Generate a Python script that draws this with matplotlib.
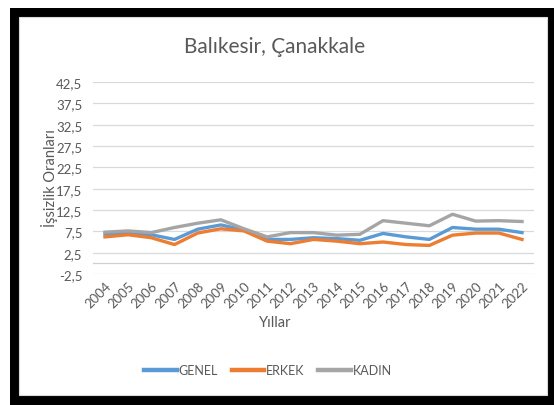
"""Unemployment rate lines for Balıkesir and Çanakkale, 2004-2022."""

import matplotlib

matplotlib.use("Agg")
import matplotlib.pyplot as plt
from matplotlib.patches import Rectangle
from matplotlib.ticker import FuncFormatter

plt.rcParams["font.family"] = ["Lato", "DejaVu Sans"]

years = list(range(2004, 2023))
genel = [6.9, 7.0, 6.7, 5.6, 8.0, 9.0, 7.8, 5.6, 5.6, 6.0, 5.8, 5.4, 7.0, 6.2, 5.6, 8.4, 8.0, 8.0, 7.2]
erkek = [6.2, 6.7, 6.0, 4.4, 7.1, 8.1, 7.6, 5.2, 4.6, 5.6, 5.2, 4.6, 5.0, 4.4, 4.2, 6.6, 7.1, 7.1, 5.6]
kadin = [7.3, 7.6, 7.2, 8.4, 9.4, 10.2, 8.1, 6.2, 7.2, 7.2, 6.6, 6.8, 10.0, 9.4, 8.8, 11.5, 9.9, 10.0, 9.8]
y_ticks = [-2.5, 2.5, 7.5, 12.5, 17.5, 22.5, 27.5, 32.5, 37.5, 42.5]

series = [
    ("GENEL", genel, "#5B9BD5"),
    ("ERKEK", erkek, "#ED7D31"),
    ("KADIN", kadin, "#A5A5A5"),
]

TEXT = "#595959"
W, H = 554, 406

fig = plt.figure(figsize=(W / 100, H / 100), dpi=100, facecolor="white")


def px_rect(x0, y0, x1, y1, **kw):
    """Rectangle given in pixel coords measured from the top-left corner."""
    return Rectangle((x0 / W, 1 - y1 / H), (x1 - x0) / W, (y1 - y0) / H,
                     transform=fig.transFigure, **kw)


# black frame with the white chart card inside, kept under the axes
fig.patches.append(px_rect(10, 9, 556, 406, facecolor="black", edgecolor="none", zorder=-3))
fig.patches.append(px_rect(19, 18, 547, 396, facecolor="white", edgecolor="#d9d9d9",
                           linewidth=0.8, zorder=-2))

ax = fig.add_axes([93.4 / W, 1 - 275 / H, 440.2 / W, 192 / H])
ax.set_facecolor("none")

x = list(range(len(years)))
for name, values, color in series:
    ax.plot(x, values, color=color, linewidth=2.4, label=name, solid_joinstyle="round", zorder=3)

ax.set_xlim(-0.5, len(years) - 0.5)
ax.set_ylim(-2.5, 42.5)
ax.set_yticks(y_ticks)
ax.yaxis.set_major_formatter(FuncFormatter(lambda v, _: f"{v:.1f}".replace(".", ",")))
ax.set_xticks(x)
ax.set_xticklabels([str(y) for y in years], rotation=45, ha="right", rotation_mode="anchor")

ax.grid(axis="y", color="#d9d9d9", linewidth=0.9)
ax.axhline(0, color="#d0d0d0", linewidth=0.9, zorder=2)
for spine in ax.spines.values():
    spine.set_visible(False)
ax.tick_params(length=0, colors=TEXT, labelsize=9.5)
ax.tick_params(axis="y", pad=8)
ax.tick_params(axis="x", pad=4)

fig.text(275 / W, 1 - 47 / H, "Balıkesir, Çanakkale", ha="center", va="center",
         fontsize=15, color=TEXT)
fig.text(49 / W, 1 - 178 / H, "İşsizlik Oranları", ha="center", va="center",
         rotation=90, fontsize=10.5, color=TEXT)
fig.text(275 / W, 1 - 323 / H, "Yıllar", ha="center", va="center", fontsize=10.5, color=TEXT)

leg = fig.legend(loc="center", bbox_to_anchor=(268 / W, 1 - 371 / H), ncol=3, frameon=False,
                 fontsize=9, labelcolor=TEXT, handlelength=2.6, handletextpad=0.15,
                 columnspacing=1.1)
for handle in leg.get_lines():
    handle.set_linewidth(3.2)

fig.savefig("out.png", dpi=100, facecolor="white")
